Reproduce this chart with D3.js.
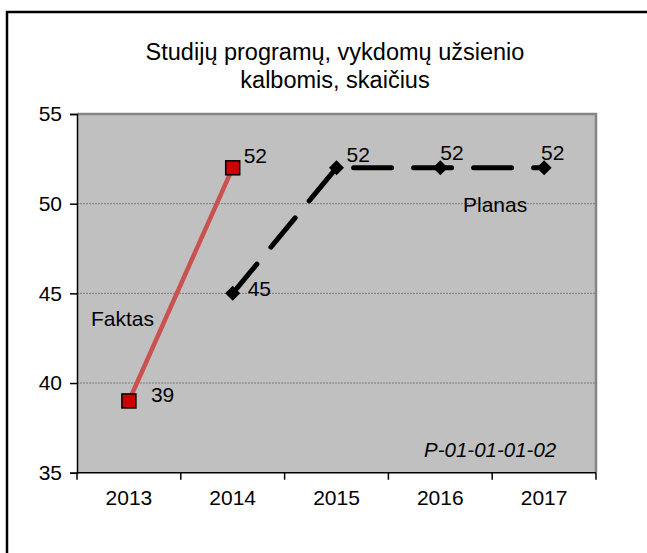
<!DOCTYPE html>
<html>
<head>
<meta charset="utf-8">
<script src="https://cdn.jsdelivr.net/npm/d3@7/dist/d3.min.js"></script>
<style>
  html, body { margin: 0; padding: 0; background: #ffffff; }
  svg { display: block; }
  text { font-family: Arial, "Liberation Sans", sans-serif; fill: #000; }
</style>
</head>
<body>
<svg id="chart" width="647" height="553"></svg>
<script>
// ---- data ----
const years = ["2013", "2014", "2015", "2016", "2017"];
const faktasYears = ["2013", "2014"];
const faktasValues = [39, 52];
const planasYears = ["2014", "2015", "2016", "2017"];
const planasValues = [45, 52, 52, 52];
const yTicks = [35, 40, 45, 50, 55];
const titleLines = ["Studijų programų, vykdomų užsienio", "kalbomis, skaičius"];
const seriesNames = ["Faktas", "Planas"];
const codeLabel = "P-01-01-01-02";

// ---- layout / style ----
const plot = { left: 77, right: 596, top: 114, bottom: 472.7 };
const faktasLabelOffsets = [[22, 1], [11, -5]];
const planasLabelOffsets = [[15, 3], [10, -6], [0, -8], [-3, -8]];

const svg = d3.select("#chart");

// outer frame (only top and left edges fall inside the picture)
svg.append("rect")
  .attr("x", 7).attr("y", 12).attr("width", 700).attr("height", 600)
  .attr("fill", "none").attr("stroke", "#000").attr("stroke-width", 2.5);

const x = d3.scalePoint().domain(years).range([plot.left, plot.right]).padding(0.5);
const y = d3.scaleLinear().domain([35, 55]).range([plot.bottom, plot.top]);

// plot background
svg.append("rect")
  .attr("x", plot.left).attr("y", plot.top)
  .attr("width", plot.right - plot.left).attr("height", plot.bottom - plot.top)
  .attr("fill", "#C0C0C0");

// gridlines
svg.append("g").selectAll("line")
  .data(yTicks.filter(t => t > 35 && t < 55))
  .join("line")
  .attr("x1", plot.left).attr("x2", plot.right)
  .attr("y1", d => y(d)).attr("y2", d => y(d))
  .attr("stroke", "#7a7a7a").attr("stroke-width", 1).attr("stroke-dasharray", "2,1");

// plot border top & right (gray)
svg.append("path")
  .attr("d", `M${plot.left},${plot.top}H${plot.right}V${plot.bottom}`)
  .attr("fill", "none").attr("stroke", "#858585").attr("stroke-width", 2.5);

// y axis
const yAxis = d3.axisLeft(y).tickValues(yTicks).tickSize(7).tickPadding(8).tickFormat(d3.format("d"));
const gy = svg.append("g").attr("transform", `translate(${plot.left},0)`).call(yAxis);
gy.select(".domain").attr("stroke", "#000").attr("stroke-width", 1.5);
gy.selectAll(".tick line").attr("stroke", "#000").attr("stroke-width", 1.5);
gy.selectAll(".tick text").style("font-size", "21px").attr("fill", "#000")
  .style("font-family", "Arial, 'Liberation Sans', sans-serif");

// x axis with ticks at category boundaries
const step = x.step();
const gx = svg.append("g").attr("transform", `translate(0,${plot.bottom})`);
gx.append("line").attr("x1", plot.left).attr("x2", plot.right)
  .attr("stroke", "#000").attr("stroke-width", 1.5);
const bounds = years.map(d => x(d) - step / 2).concat([x(years[years.length - 1]) + step / 2]);
gx.selectAll("line.tk").data(bounds).join("line").attr("class", "tk")
  .attr("x1", d => d).attr("x2", d => d).attr("y1", 0).attr("y2", 7)
  .attr("stroke", "#000").attr("stroke-width", 1.5);
gx.selectAll("text").data(years).join("text")
  .attr("x", d => x(d)).attr("y", 32)
  .attr("text-anchor", "middle").style("font-size", "21px").text(d => d);

// Faktas line
const faktas = faktasYears.map((d, i) => ({ year: d, value: faktasValues[i] }));
const planas = planasYears.map((d, i) => ({ year: d, value: planasValues[i] }));
const line = d3.line().x(d => x(d.year)).y(d => y(d.value));

svg.append("path").datum(faktas).attr("d", line)
  .attr("fill", "none").attr("stroke", "#C9514F").attr("stroke-width", 4.5);

// Planas dashed line
svg.append("path").datum(planas).attr("d", line)
  .attr("fill", "none").attr("stroke", "#000").attr("stroke-width", 5)
  .attr("stroke-linecap", "round").attr("stroke-dasharray", "38,22");

// Faktas markers
svg.selectAll("rect.fm").data(faktas).join("rect").attr("class", "fm")
  .attr("x", d => x(d.year) - 7).attr("y", d => y(d.value) - 7)
  .attr("width", 14).attr("height", 14)
  .attr("fill", "#CC0000").attr("stroke", "#000").attr("stroke-width", 1.5);

// Planas markers (diamonds)
svg.selectAll("path.pm").data(planas).join("path").attr("class", "pm")
  .attr("d", d => {
    const cx = x(d.year), cy = y(d.value), r = 7.5;
    return `M${cx},${cy - r}L${cx + r},${cy}L${cx},${cy + r}L${cx - r},${cy}Z`;
  })
  .attr("fill", "#000");

// data labels
svg.selectAll("text.fl").data(faktas).join("text").attr("class", "fl")
  .attr("x", (d, i) => x(d.year) + faktasLabelOffsets[i][0])
  .attr("y", (d, i) => y(d.value) + faktasLabelOffsets[i][1])
  .style("font-size", "21px").text(d => d.value);

svg.selectAll("text.pl").data(planas).join("text").attr("class", "pl")
  .attr("x", (d, i) => x(d.year) + planasLabelOffsets[i][0])
  .attr("y", (d, i) => y(d.value) + planasLabelOffsets[i][1])
  .style("font-size", "21px").text(d => d.value);

// series name labels
svg.append("text").attr("x", 91).attr("y", 326).style("font-size", "21px").text(seriesNames[0]);
svg.append("text").attr("x", 463).attr("y", 212).style("font-size", "21px").text(seriesNames[1]);

// code label
svg.append("text").attr("x", 424).attr("y", 457)
  .style("font-size", "20.5px").style("font-style", "italic").text(codeLabel);

// title
svg.append("text").attr("text-anchor", "middle").style("font-size", "23.5px")
  .selectAll("tspan").data(titleLines).join("tspan")
  .attr("x", 335).attr("y", (d, i) => 60 + i * 28).text(d => d);
</script>
</body>
</html>
